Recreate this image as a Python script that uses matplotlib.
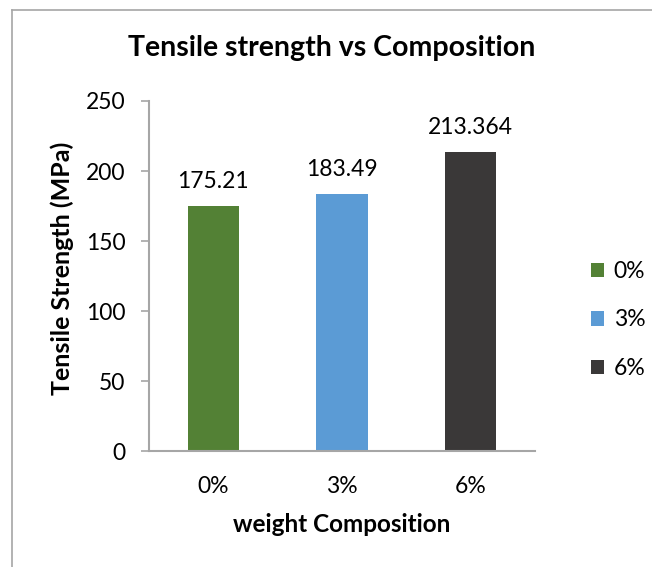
import matplotlib.pyplot as plt
from matplotlib.lines import Line2D
from matplotlib.patches import Patch

plt.rcParams['font.family'] = ['Lato', 'DejaVu Sans']

categories = ['0%', '3%', '6%']
strength = [175.21, 183.49, 213.364]
labels = ['175.21', '183.49', '213.364']
colors = ['#538135', '#5B9BD5', '#3A3838']

W, H = 652, 567
fig = plt.figure(figsize=(W / 100, H / 100), dpi=100)

# chart-area border: only the left and top edges fall inside the image
border = dict(transform=fig.transFigure, color='#a6a6a6', linewidth=1.2)
fig.add_artist(Line2D([12 / W, 12 / W], [0, 1 - 10 / H], **border))
fig.add_artist(Line2D([12 / W, 1], [1 - 10 / H, 1 - 10 / H], **border))

ax = fig.add_axes([149 / W, 1 - 451 / H, 386 / W, 350 / H])
x = range(len(categories))
bars = ax.bar(x, strength, width=0.4, color=colors)

for b, lab in zip(bars, labels):
    ax.text(b.get_x() + b.get_width() / 2, b.get_height() + 13, lab,
            ha='center', va='baseline', fontsize=16.5)

ax.set_xlim(-0.5, 2.5)
ax.set_ylim(0, 250)
ax.set_yticks(range(0, 251, 50))
ax.set_xticks(list(x))
ax.set_xticklabels(categories)
ax.tick_params(axis='y', labelsize=16.5, length=6, width=1.2, color='#a6a6a6', pad=11)
ax.tick_params(axis='x', labelsize=16.5, length=0, pad=18)
for side in ['top', 'right']:
    ax.spines[side].set_visible(False)
for side in ['left', 'bottom']:
    ax.spines[side].set_color('#a6a6a6')
    ax.spines[side].set_linewidth(1.5)

fig.text(332 / W, 1 - 48 / H, 'Tensile strength vs Composition', fontsize=20.5,
         fontweight='bold', ha='center', va='center')
fig.text(342 / W, 1 - 525 / H, 'weight Composition', fontsize=17.5,
         fontweight='bold', ha='center', va='center')
fig.text(62 / W, 1 - 268 / H, 'Tensile Strength (MPa)', fontsize=18,
         fontweight='bold', ha='center', va='center', rotation=90)

handles = [Patch(facecolor=c, label=cat) for c, cat in zip(colors, categories)]
fig.legend(handles=handles, loc='center left', bbox_to_anchor=(570 / W, 1 - 320 / H),
           frameon=False, fontsize=16.5, handlelength=0.6, handleheight=0.6,
           handletextpad=0.4, labelspacing=1.2)

fig.savefig('out.png', dpi=100)
